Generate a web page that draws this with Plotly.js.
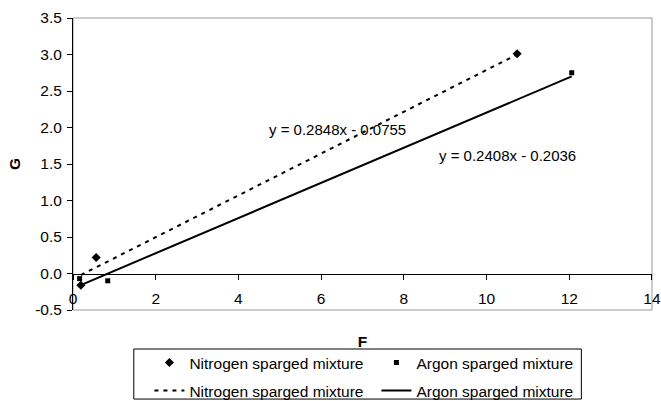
<!DOCTYPE html>
<html>
<head>
<meta charset="utf-8">
<script src="https://cdn.plot.ly/plotly-3.0.1.min.js"></script>
<style>html,body{margin:0;padding:0;background:#fff;}#chart{width:661px;height:401px;}</style>
</head>
<body>
<div id="chart"></div>
<script>
// Data
var nitrogenX = [0.19, 0.56, 10.74];
var nitrogenY = [-0.16, 0.22, 3.01];
var argonX = [0.16, 0.84, 12.06];
var argonY = [-0.07, -0.10, 2.75];
// Linear trendline end points (drawn over each series' x extent)
var nitrogenFitX = [0.19, 10.74];
var nitrogenFitY = [-0.021, 3.0];
var argonFitX = [0.16, 12.06];
var argonFitY = [-0.165, 2.70];
var seriesNames = ["Nitrogen sparged mixture", "Argon sparged mixture"];
var equationTexts = ["y = 0.2848x - 0.0755", "y = 0.2408x - 0.2036"];
var equationX = [6.4, 10.5];
var equationY = [1.97, 1.62];
var xTicks = [0, 2, 4, 6, 8, 10, 12, 14];
var yTicks = [-0.5, 0, 0.5, 1, 1.5, 2, 2.5, 3, 3.5];

var FONT = "Liberation Sans, Arial, sans-serif";
var FS = 15.5;

var traces = [
  {x: nitrogenX, y: nitrogenY, name: seriesNames[0], mode: "markers", type: "scatter",
   marker: {symbol: "diamond", size: 7, color: "#000"}, legend: "legend"},
  {x: argonX, y: argonY, name: seriesNames[1], mode: "markers", type: "scatter",
   marker: {symbol: "square", size: 5, color: "#000"}, legend: "legend"},
  {x: nitrogenFitX, y: nitrogenFitY, name: seriesNames[0], mode: "lines", type: "scatter",
   line: {color: "#000", width: 2, dash: "4px,5px"}, legend: "legend2"},
  {x: argonFitX, y: argonFitY, name: seriesNames[1], mode: "lines", type: "scatter",
   line: {color: "#000", width: 2}, legend: "legend2"}
];

var annotations = equationTexts.map(function (t, i) {
  return {x: equationX[i], y: equationY[i], xref: "x", yref: "y", text: t, showarrow: false,
          font: {family: FONT, size: 15, color: "#000"}};
});

var legendCommon = {
  orientation: "h", xref: "paper", yref: "paper", xanchor: "left", yanchor: "middle",
  entrywidth: 182, entrywidthmode: "pixels", bgcolor: "rgba(0,0,0,0)", borderwidth: 0,
  font: {family: FONT, size: FS, color: "#000"}, traceorder: "normal"
};

var layout = {
  width: 661, height: 401,
  margin: {l: 73, r: 9, t: 18, b: 91, autoexpand: false},
  paper_bgcolor: "#fff", plot_bgcolor: "#fff",
  font: {family: FONT, size: FS, color: "#000"},
  showlegend: true,
  xaxis: {
    range: [0, 14.001], tickvals: xTicks, ticktext: xTicks.map(String),
    anchor: "free", position: 0.125, automargin: false, ticklabeloverflow: "allow",
    showline: true, linecolor: "#000", linewidth: 1,
    ticks: "outside", ticklen: 5, tickcolor: "#000",
    ticklabelstandoff: 6,
    showgrid: false, zeroline: false,
    tickfont: {family: FONT, size: FS, color: "#000"},
    title: {text: "<b>F</b>", font: {family: FONT, size: FS, color: "#000"}, standoff: 30}
  },
  yaxis: {
    range: [-0.5, 3.5], tickvals: yTicks, ticktext: yTicks.map(function (v) { return v.toFixed(1); }),
    showline: true, linecolor: "#000", linewidth: 1, automargin: false,
    ticks: "outside", ticklen: 5, tickcolor: "#000",
    ticklabelstandoff: 2,
    showgrid: false, zeroline: false,
    tickfont: {family: FONT, size: FS, color: "#000"},
    title: {text: "<b>G</b>", font: {family: FONT, size: FS, color: "#000"}, standoff: 10}
  },
  legend: Object.assign({}, legendCommon, {x: 0.132, y: -0.1815}),
  legend2: Object.assign({}, legendCommon, {x: 0.132, y: -0.277}),
  shapes: [
    {type: "rect", xref: "paper", yref: "paper", x0: 0, x1: 1, y0: 0, y1: 1,
     line: {color: "#999", width: 1}, layer: "below"},
    {type: "rect", xref: "paper", yref: "paper", x0: 0.105, x1: 0.878, y0: -0.1336, y1: -0.305,
     line: {color: "#000", width: 1}, layer: "below"}
  ],
  annotations: annotations
};

Plotly.newPlot("chart", traces, layout, {displayModeBar: false, staticPlot: true});
</script>
</body>
</html>
